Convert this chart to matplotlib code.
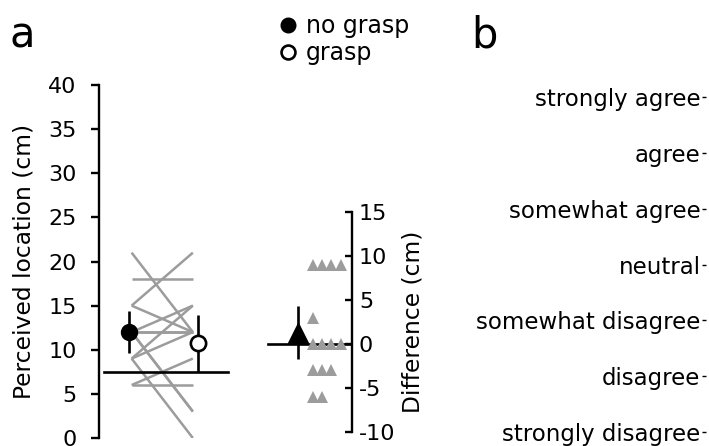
import matplotlib
matplotlib.use("Agg")
import matplotlib.pyplot as plt
import numpy as np
from matplotlib.lines import Line2D

# ---- data ----
no_grasp = [21, 18, 15, 15, 12, 12, 12, 12, 12, 9, 9, 9, 6, 6]
grasp    = [12, 18, 21, 12, 12, 12, 15, 3, 3, 0, 15, 12, 6, 9]
mean_no_grasp, err_no_grasp = 12.0, 2.35
mean_grasp, err_grasp = 10.71, 3.2
chance_level = 7.5
diff_mean, diff_err = 1.29, 3.05
likert_labels = ["strongly disagree", "disagree", "somewhat disagree", "neutral",
                 "somewhat agree", "agree", "strongly agree"]
left_ticks = [0, 5, 10, 15, 20, 25, 30, 35, 40]
right_ticks = [-10, -5, 0, 5, 10, 15]

plt.rcParams['font.family'] = ['DejaVu Sans']
plt.rcParams['axes.unicode_minus'] = False
W, H = 709, 446
fig = plt.figure(figsize=(W / 100, H / 100), dpi=100)

def ax_px(x0, y0, x1, y1):
    return fig.add_axes([x0 / W, (H - y1) / H, (x1 - x0) / W, (y1 - y0) / H])

GRAY = '#9c9c9c'
LW_SP = 1.7
FS_TICK = 16
FS_LAB = 16.8

# ---- panel a, left ----
axL = ax_px(99, 85, 235, 438)
axL.set_xlim(0, 1)
axL.set_ylim(0, 40)
for s in ['top', 'right', 'bottom']:
    axL.spines[s].set_visible(False)
axL.spines['left'].set_linewidth(LW_SP)
axL.set_xticks([])
axL.set_yticks(left_ticks)
axL.tick_params(axis='y', length=6, width=LW_SP, labelsize=FS_TICK, pad=10)
axL.set_ylabel("Perceived location (cm)", fontsize=FS_LAB, labelpad=9)
xa, xb = 0.24, 0.69
for a, b in zip(no_grasp, grasp):
    axL.plot([xa, xb], [a, b], color=GRAY, lw=1.8, zorder=2, solid_capstyle='butt')
axL.plot([0.037, 0.95], [chance_level, chance_level], color='black', lw=1.9, zorder=3)
axL.errorbar([0.22], [mean_no_grasp], yerr=[err_no_grasp], fmt='o', color='black',
             ms=11.5, elinewidth=1.9, capsize=0, zorder=5)
axL.errorbar([0.73], [mean_grasp], yerr=[err_grasp], fmt='o', mfc='white', mec='black',
             mew=1.9, ecolor='black', ms=11, elinewidth=1.9, capsize=0, zorder=5)
axL.patch.set_alpha(0)

# ---- panel a, right (difference) ----
axR = ax_px(260, 212, 352, 432)
axR.set_xlim(0, 1)
axR.set_ylim(-10, 15)
for s in ['top', 'left', 'bottom']:
    axR.spines[s].set_visible(False)
axR.spines['right'].set_linewidth(LW_SP)
axR.set_xticks([])
axR.yaxis.tick_right()
axR.yaxis.set_label_position('right')
axR.set_yticks(right_ticks)
axR.tick_params(axis='y', direction='in', length=5, width=LW_SP, labelsize=FS_TICK, pad=5)
axR.set_ylabel("Difference (cm)", fontsize=FS_LAB, rotation=90, labelpad=4)
axR.plot([0.087, 1.0], [0, 0], color='black', lw=1.9, zorder=3)
diffs = [a - b for a, b in zip(no_grasp, grasp)]
vals, counts = np.unique(diffs, return_counts=True)
for v, c in zip(vals, counts):
    xs = 0.573 + 0.101 * np.arange(c)
    axR.plot(xs, [v] * c, linestyle='none', marker='^', color=GRAY, ms=8, mew=0, zorder=4)
axR.errorbar([0.413], [diff_mean], yerr=[diff_err], fmt='^', color='black',
             ms=14, elinewidth=1.9, capsize=0, zorder=5)
axR.patch.set_alpha(0)

# ---- legend ----
leg_handles = [Line2D([], [], marker='o', linestyle='none', color='black', ms=10.5),
               Line2D([], [], marker='o', linestyle='none', mfc='white', mec='black', mew=1.9, ms=10)]
fig.legend(leg_handles, ["no grasp", "grasp"], loc='upper left',
           bbox_to_anchor=(267 / W, 1 - 2 / H), frameon=False, fontsize=17,
           handlelength=0.8, handletextpad=0.36, labelspacing=0.15, borderpad=0)

# ---- panel b ----
axB = ax_px(706, 97, 707, 432)
axB.set_ylim(1, 7)
axB.set_xticks([])
for s in axB.spines.values():
    s.set_visible(False)
axB.set_yticks(range(1, 8))
axB.set_yticklabels(likert_labels)
axB.tick_params(axis='y', length=3, width=1, labelsize=16.5, pad=1)

# ---- panel labels ----
fig.text(10 / W, 1 - 47 / H, "a", fontsize=30)
fig.text(471 / W, 1 - 47 / H, "b", fontsize=30)

fig.savefig("out.png", dpi=100)
